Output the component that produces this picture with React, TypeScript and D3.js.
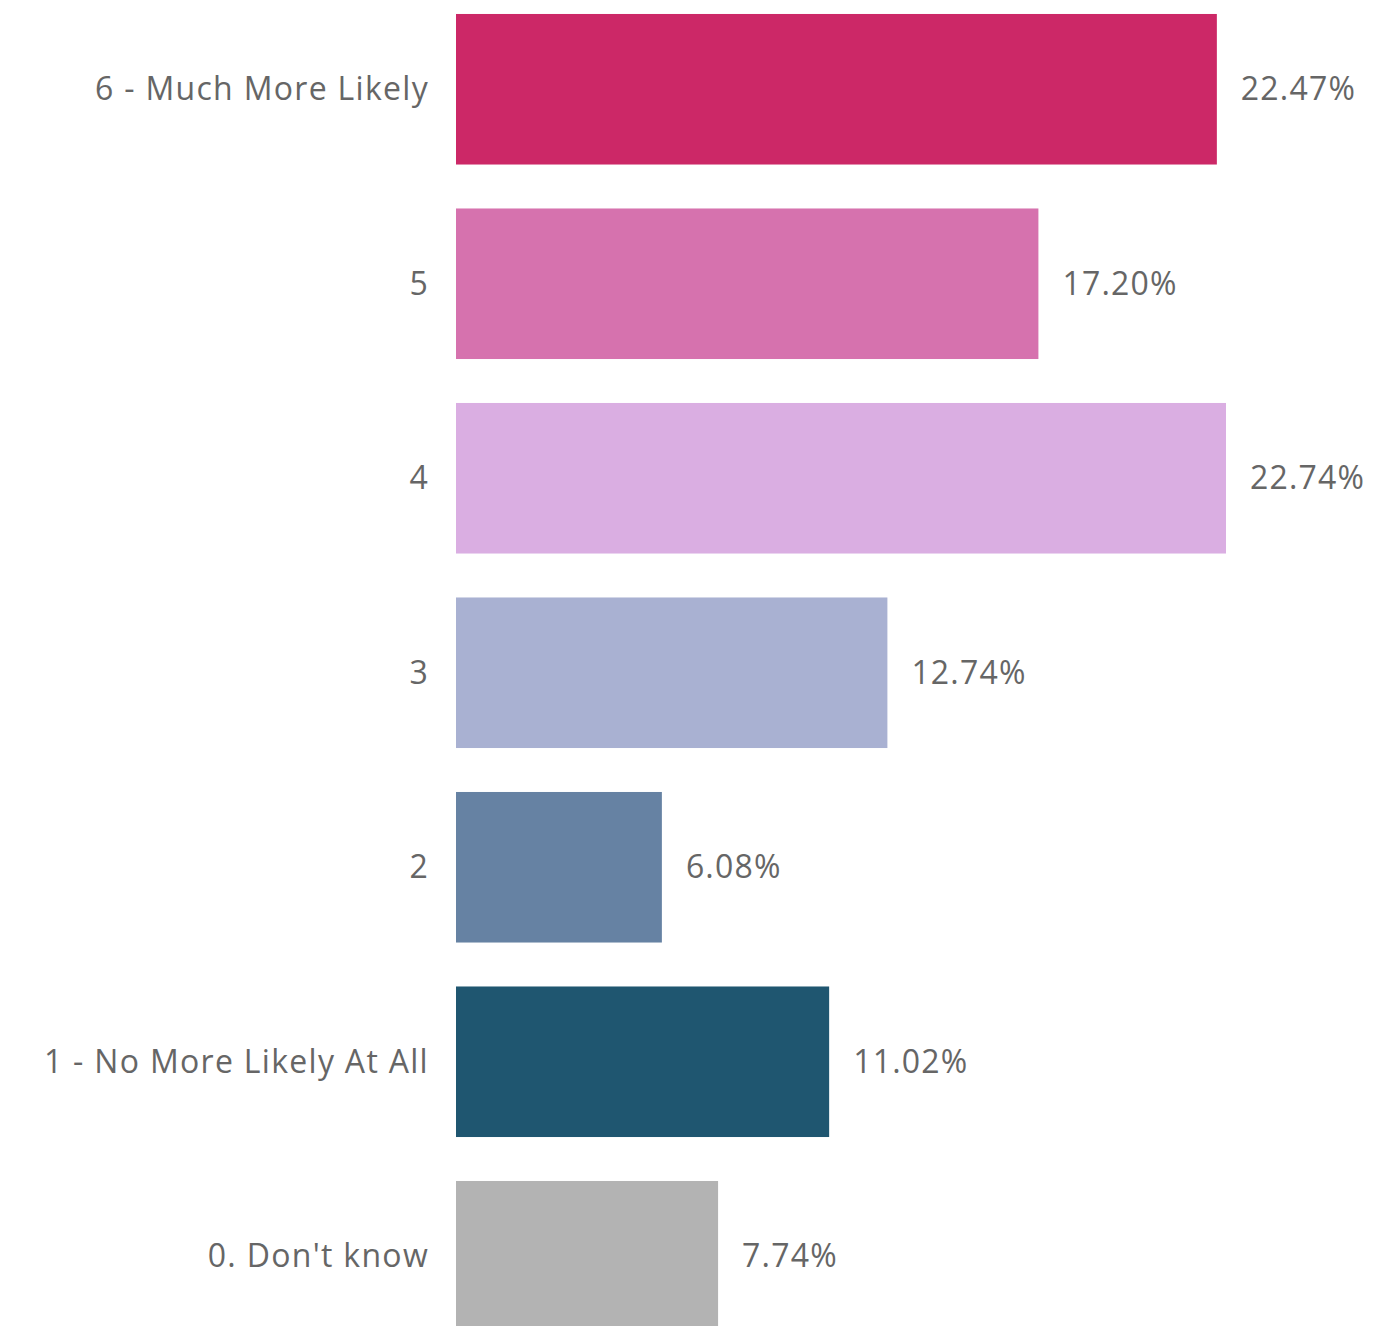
import React, { useEffect, useRef } from 'react';
import * as d3 from 'd3';

const categories = [
  '6 - Much More Likely',
  '5',
  '4',
  '3',
  '2',
  '1 - No More Likely At All',
  "0. Don't know",
];
const values = [22.47, 17.2, 22.74, 12.74, 6.08, 11.02, 7.74];
const colors = ['#CC2867', '#D672AE', '#DAAEE2', '#A9B1D2', '#6682A3', '#1F5670', '#B3B3B3'];

const width = 1374;
const height = 1326;

export default function App() {
  const ref = useRef<SVGSVGElement>(null);

  useEffect(() => {
    if (!ref.current) return;
    const svg = d3.select(ref.current);
    svg.selectAll('*').remove();

    const data = categories.map((c, i) => ({ cat: c, value: values[i], color: colors[i] }));

    const x = d3.scaleLinear()
      .domain([0, d3.max(values) || 1])
      .range([456, 1226]);

    const y = d3.scaleBand()
      .domain(categories)
      .range([-8, 1353.5])
      .paddingInner(0.226)
      .paddingOuter(0.113);

    // bars
    svg.selectAll('rect.bar')
      .data(data)
      .join('rect')
      .attr('class', 'bar')
      .attr('x', x(0))
      .attr('y', d => y(d.cat) || 0)
      .attr('width', d => x(d.value) - x(0))
      .attr('height', y.bandwidth())
      .attr('fill', d => d.color);

    // category labels
    svg.selectAll('text.cat')
      .data(data)
      .join('text')
      .attr('class', 'cat')
      .attr('x', x(0) - 27)
      .attr('y', d => (y(d.cat) || 0) + y.bandwidth() / 2)
      .attr('dy', '0.35em')
      .attr('text-anchor', 'end')
      .attr('fill', '#666666')
      .attr('font-size', '32px')
      .attr('letter-spacing', '1.3px')
      .text(d => d.cat);

    // value labels
    svg.selectAll('text.val')
      .data(data)
      .join('text')
      .attr('class', 'val')
      .attr('x', d => x(d.value) + 24)
      .attr('y', d => (y(d.cat) || 0) + y.bandwidth() / 2)
      .attr('dy', '0.35em')
      .attr('fill', '#666666')
      .attr('font-size', '32px')
      .attr('letter-spacing', '1.2px')
      .text(d => `${d.value.toFixed(2)}%`);
  }, []);

  return (
    <svg
      ref={ref}
      width={width}
      height={height}
      style={{
        position: 'absolute',
        left: 0,
        top: 0,
        background: '#fff',
        fontFamily: '"Open Sans", "Noto Sans", sans-serif',
        overflow: 'hidden',
      }}
    />
  );
}
